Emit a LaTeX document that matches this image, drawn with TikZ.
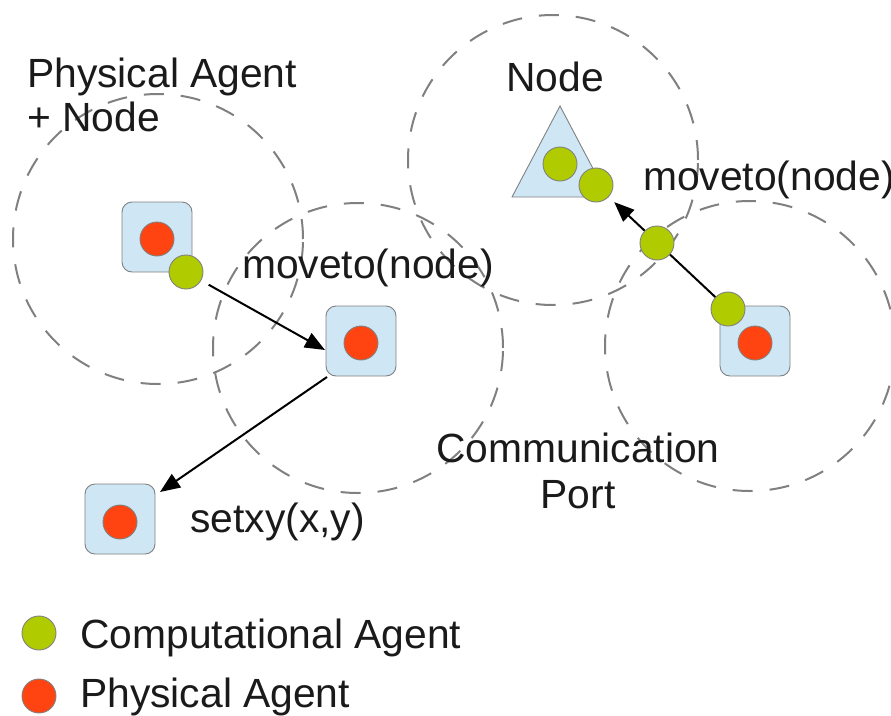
\documentclass[tikz,border=0pt]{standalone}
\usepackage{fontspec}
\setmainfont{Liberation Sans}
\usetikzlibrary{arrows.meta}
\definecolor{agentgreen}{RGB}{176,204,0}
\definecolor{agentred}{RGB}{255,68,17}
\definecolor{hostblue}{RGB}{207,231,245}
\definecolor{rimgray}{RGB}{128,128,128}
\definecolor{inkdark}{RGB}{26,26,26}
\begin{document}
\begin{tikzpicture}[x=1pt,y=-1pt,
  commrange/.style={circle,draw=rimgray,line width=2pt,dash pattern=on 20pt off 17pt,minimum size=290pt,inner sep=0pt},
  hostbox/.style={rectangle,rounded corners=10pt,draw=rimgray,fill=hostblue,line width=0.9pt,minimum size=70pt,inner sep=0pt},
  physdot/.style={circle,draw=rimgray,fill=agentred,line width=0.9pt,minimum size=34pt,inner sep=0pt},
  compdot/.style={circle,draw=rimgray,fill=agentgreen,line width=0.9pt,minimum size=34pt,inner sep=0pt},
  lbl/.style={inner sep=0pt,anchor=base west,text=inkdark,font=\fontsize{40.8}{48}\selectfont},
  clbl/.style={inner sep=0pt,anchor=base,text=inkdark,font=\fontsize{40.8}{48}\selectfont},
  migrate/.style={line width=2pt,-{Triangle[length=20pt,width=16pt]}}]
\useasboundingbox (0,0) rectangle (891,715);

% communication ranges
\node[commrange] (r1) at (158,239) {};
\node[commrange] (r2) at (358,348) {};
\node[commrange] (r3) at (553,160) {};
\node[commrange] (r4) at (750,346) {};

% labels
\node[lbl] (t1) at (27,87) {Physical Agent};
\node[lbl] (t2) at (27,131) {+ Node};
\node[clbl] (t3) at (555,91) {Node};
\node[lbl] (t4) at (242,278) {moveto(node)};
\node[lbl] (t5) at (643,190) {moveto(node)};
\node[clbl] (t6) at (578,462) {Communication};
\node[clbl] (t7) at (578,508) {Port};
\node[lbl] (t8) at (190,532) {setxy(x,y)};
\node[lbl] (t9) at (80,648) {Computational Agent};
\node[lbl] (t10) at (80,707) {Physical Agent};

% static node
\draw[draw=rimgray,fill=hostblue,line width=0.9pt] (512,197) coordinate (tl) -- (560,106) coordinate (tt) -- (608,197) coordinate (tr) -- cycle;

% hosts with physical agents
\node[hostbox] (s1) at (157,237) {};
\node[physdot] (p1) at (157,239) {};
\node[hostbox] (s2) at (361,341) {};
\node[physdot] (p2) at (361,343) {};
\node[hostbox] (s3) at (120,519) {};
\node[physdot] (p3) at (120,522) {};
\node[hostbox] (s4) at (755,341) {};
\node[physdot] (p4) at (755,343) {};

% computational agent positions
\coordinate (c1) at (186,272);
\coordinate (c3) at (596,185);
\coordinate (c4) at (728,309);

% migrations
\coordinate (e1) at (325,350);
\coordinate (b2) at (327,377);
\coordinate (e2) at (160,492);
\draw[migrate,shorten <=26pt] (c1) -- (e1);
\draw[migrate] (b2) -- (e2);
\draw[migrate,shorten >=25pt] (c4) -- (c3);

% computational agents
\node[compdot] (g1) at (c1) {};
\node[compdot] (g2) at (560,164) {};
\node[compdot] (g3) at (c3) {};
\node[compdot] (g4) at (c4) {};
\node[compdot] (g5) at (657,243) {};

% legend
\node[compdot] (k1) at (39,633) {};
\node[physdot] (k2) at (39,696) {};
\end{tikzpicture}
\end{document}
